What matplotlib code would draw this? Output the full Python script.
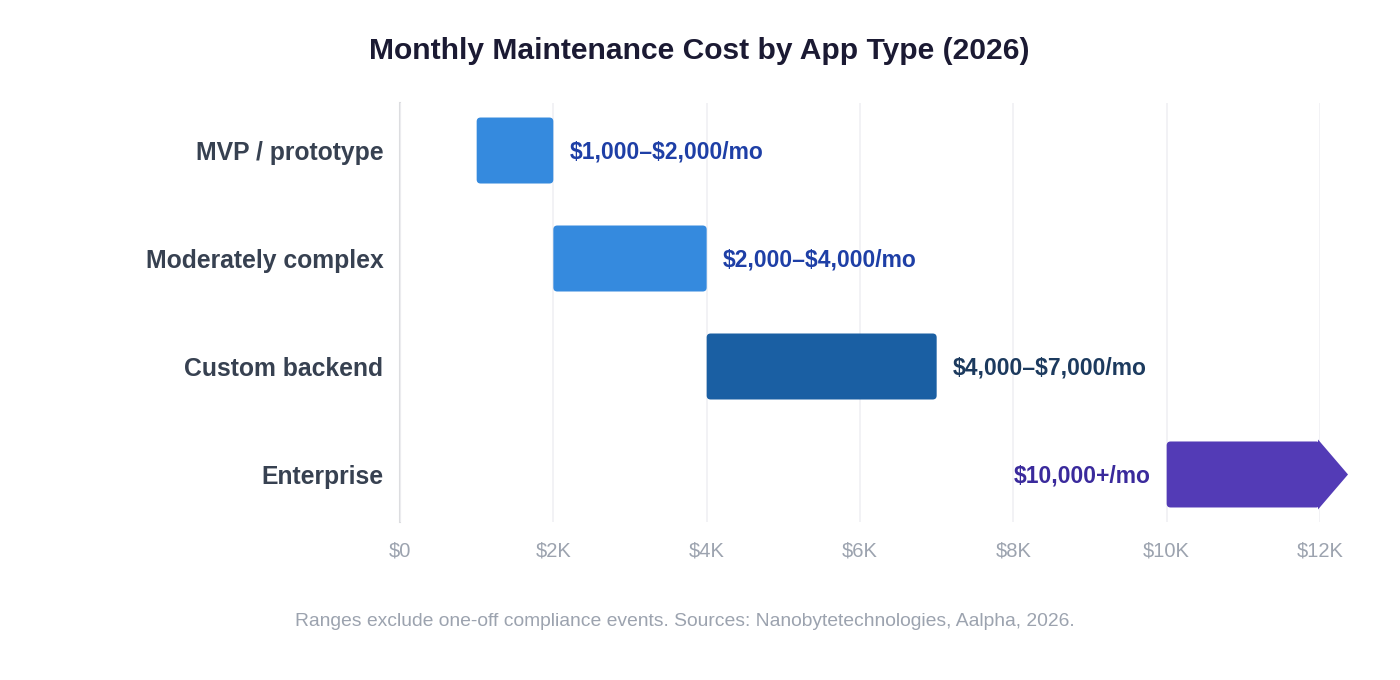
import numpy as np
import matplotlib.pyplot as plt
from matplotlib.patches import FancyBboxPatch, Polygon

plt.rcParams["font.family"] = ["Liberation Sans", "DejaVu Sans"]
plt.rcParams["text.parse_math"] = False

# data
categories = ["MVP / prototype", "Moderately complex", "Custom backend", "Enterprise"]
low = [1000, 2000, 4000, 10000]
high = [2000, 4000, 7000, 12000]
labels = ["$1,000\u2013$2,000/mo", "$2,000\u2013$4,000/mo", "$4,000\u2013$7,000/mo", "$10,000+/mo"]
open_ended = [False, False, False, True]
bar_colors = ["#358ade", "#358ade", "#1a5fa3", "#533bb6"]
label_colors = ["#1e3fa6", "#1e3fa6", "#1c3a5e", "#3a2a9c"]
xticks = [0, 2000, 4000, 6000, 8000, 10000, 12000]
xticklabels = ["$0", "$2K", "$4K", "$6K", "$8K", "$10K", "$12K"]

fig = plt.figure(figsize=(14, 6.8), dpi=100)
ax = fig.add_axes([400 / 1400, 1 - 522 / 680, 920 / 1400, 419 / 680])

ax.set_xlim(0, 12000)
ax.set_ylim(3.44, -0.44)

# px -> data scale for rounded corners
px_x = 12000 / 920
px_y = 3.88 / 419
bar_h = 66 * px_y

for i, cat in enumerate(categories):
    x0, x1 = low[i], high[i]
    box = FancyBboxPatch((x0, i - bar_h / 2), x1 - x0, bar_h,
                         boxstyle=f"round,pad=0,rounding_size={4 * px_x}",
                         mutation_aspect=px_y / px_x,
                         facecolor=bar_colors[i], edgecolor="none", zorder=3)
    ax.add_patch(box)
    if open_ended[i]:
        tip = 28 * px_x
        tri = Polygon([(x1 - 2 * px_x, i - bar_h / 2 - 2 * px_y),
                       (x1 + tip, i),
                       (x1 - 2 * px_x, i + bar_h / 2 + 2 * px_y)],
                      closed=True, facecolor=bar_colors[i], edgecolor="none",
                      zorder=3, clip_on=False)
        ax.add_patch(tri)
        ax.text(x0 - 16 * px_x, i + 1.5 * px_y, labels[i], ha="right", va="center",
                fontsize=16.5, fontweight="bold", color=label_colors[i])
    else:
        ax.text(x1 + 16 * px_x, i + 1.5 * px_y, labels[i], ha="left", va="center",
                fontsize=16.5, fontweight="bold", color=label_colors[i])

ax.set_yticks(range(len(categories)))
ax.set_yticklabels(categories, fontsize=17.8, fontweight="bold", color="#374151")
ax.tick_params(axis="y", length=0, pad=12)

ax.set_xticks(xticks)
ax.set_xticklabels(xticklabels, fontsize=14.5, color="#9ca3af")
ax.tick_params(axis="x", length=0, pad=14)

ax.grid(axis="x", color="#f0f0f3", linewidth=1.2, zorder=0)
for side in ["top", "right", "bottom"]:
    ax.spines[side].set_visible(False)
ax.spines["left"].set_color("#dcdde0")
ax.spines["left"].set_linewidth(1.5)
ax.spines["left"].set_zorder(1)

fig.text(0.4995, 1 - 51 / 680, "Monthly Maintenance Cost by App Type (2026)",
         ha="center", va="center", fontsize=21.6, fontweight="bold", color="#1b1a33")
fig.text(685 / 1400, 1 - 622 / 680,
         "Ranges exclude one-off compliance events. Sources: Nanobytetechnologies, Aalpha, 2026.",
         ha="center", va="center", fontsize=13.9, color="#9ca3af")

plt.savefig("out.png", dpi=100, facecolor="white")
plt.close()
